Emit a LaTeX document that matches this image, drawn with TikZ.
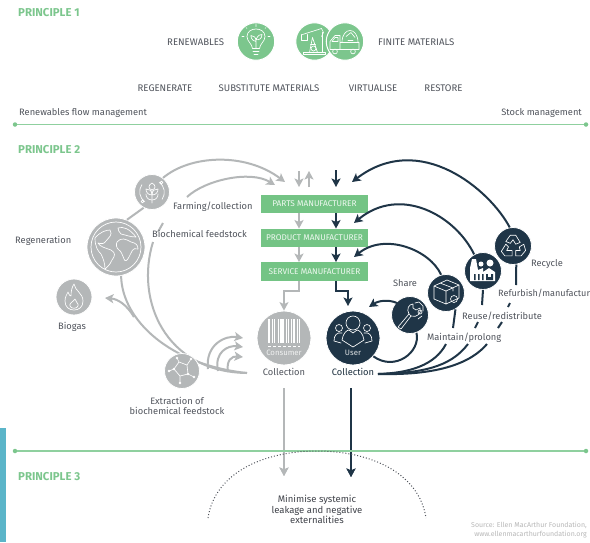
\documentclass[tikz,border=0pt]{standalone}
\usepackage{fontspec}
\setmainfont{Fira Sans}
\usetikzlibrary{arrows.meta}
\definecolor{pgreen}{HTML}{7CC68D}
\definecolor{lgreen}{HTML}{8FD09F}
\definecolor{boxgreen}{HTML}{74C485}
\definecolor{dk}{HTML}{1F3547}
\definecolor{gry}{HTML}{B4B7B8}
\definecolor{txt}{HTML}{50545C}
\definecolor{teal}{HTML}{5BB5C9}
\tikzset{
 x=1pt,y=-1pt,
 head/.style={font=\bfseries\fontsize{11.4}{13}\selectfont,text=pgreen,anchor=west,inner sep=0pt},
 caps/.style={font=\fontsize{9.6}{11}\selectfont,text=txt,inner sep=0pt},
 lbl/.style={font=\fontsize{9.3}{10.5}\selectfont,text=txt,inner sep=0pt,align=center},
 mbox/.style={fill=boxgreen,text=white!88!boxgreen,font=\fontsize{8.3}{9}\selectfont,minimum width=107pt,minimum height=18.5pt,inner sep=0pt},
 gc/.style={circle,fill=gry,draw=white,line width=.8pt,inner sep=0pt},
 dc/.style={circle,fill=dk,draw=white,line width=.8pt,inner sep=0pt},
 fc/.style={circle,fill=pgreen,draw=white,line width=1pt,minimum size=37.5pt,inner sep=0pt},
 gl/.style={draw=gry,line width=2pt},
 dl/.style={draw=dk,line width=2pt},
 ga/.style={gl,-{Stealth[length=8.5pt,width=9pt,inset=2pt]}},
 da/.style={dl,-{Stealth[length=8.5pt,width=9pt,inset=2pt]}},
 ic/.style={draw=white,line width=.65pt,line join=round,line cap=round},
 rule/.style={draw=lgreen,line width=1.6pt},
 dot/.style={circle,fill=pgreen,minimum size=4.5pt,inner sep=0pt},
}
\begin{document}
\begin{tikzpicture}
\useasboundingbox (0,0) rectangle (590,542);
\fill[white] (0,0) rectangle (590,542);
\fill[teal] (0,428) rectangle (6,542);

% Principle 1
\node[head] (p1) at (18,13) {PRINCIPLE 1};
\node[caps,anchor=west] (ren) at (167,42) {RENEWABLES};
\node[caps,anchor=west] (fin) at (378,42) {FINITE MATERIALS};
\node[fc] (bulb) at (256,41.5) {};
\node[fc] (oil) at (314.5,41.5) {};
\node[fc] (truck) at (345,41.5) {};
\begin{scope}[shift={(bulb.center)}]
 \draw[ic] (-3.5,7) .. controls (-4,2) and (-9,0) .. (-9,-5) .. controls (-9,-15) and (9,-15) .. (9,-5) .. controls (9,0) and (4,2) .. (3.5,7) -- cycle;
 \draw[ic] (-3,10) -- (3,10) (-2,13) -- (2,13);
 \draw[ic] (0,7) -- (0,-3) (0,0) .. controls (-5,-1) and (-5,-5) .. (-5,-6) .. controls (-2,-6) and (0,-4) .. (0,0) (0,-2) .. controls (2,-7) and (5,-7) .. (6,-7) .. controls (6,-3) and (3,-1) .. (0,-2);
 \draw[ic] (-14,-5) -- (-12,-5) (12,-5) -- (14,-5) (0,-17) -- (0,-15) (-10,-14) -- (-9,-13) (10,-14) -- (9,-13);
\end{scope}
\begin{scope}[shift={(oil.center)}]
 \draw[ic] (-11,11) -- (11,11) -- (11,13) -- (-11,13) -- cycle;
 \draw[ic] (-5,11) -- (-2,-4) -- (3,11) (-4,3) -- (1,3) (-12,-7) -- (7,-13) (7,-13) -- (9,-9) -- (7,-5) (8,-9) -- (8,11);
 \draw[ic] (-13,-7) -- (-13,-1) -- (-7,-1) -- (-7,-7);
 \draw[ic] (-1,7) circle (2.5);
\end{scope}
\begin{scope}[shift={(truck.center)}]
 \draw[ic] (-15,8) -- (-15,0) -- (-10,-6) -- (-5,-6) -- (-5,8) -- cycle (-5,8) -- (14,8) -- (14,1) -- (-5,1);
 \draw[ic] (-13,0) -- (-10,-4) -- (-7,-4) -- (-7,0) -- cycle;
 \draw[ic] (-10,10) circle (2.4) (8,10) circle (2.4);
 \draw[ic] (-3,1) .. controls (-3,-15) and (13,-15) .. (13,1);
 \draw[ic] (1,-5) -- (6,-9) -- (10,-4) (3,-1) -- (8,-1);
\end{scope}
\node[caps] (reg) at (165,88) {REGENERATE};
\node[caps] (sub) at (269,88) {SUBSTITUTE MATERIALS};
\node[caps] (vir) at (373,88) {VIRTUALISE};
\node[caps] (res) at (443.5,88) {RESTORE};
\node[lbl,anchor=west] (rfm) at (19,113) {Renewables flow management};
\node[lbl,anchor=east] (stk) at (582,113) {Stock management};
\node[dot] (d1) at (15,124.5) {};
\node[dot] (d2) at (586,124.5) {};
\draw[rule] (d1) -- (d2);

% Principle 2
\node[head] (p2) at (18,150) {PRINCIPLE 2};

% manufacturers
\node[mbox] (parts) at (314.5,204) {PARTS MANUFACTURER};
\node[mbox] (prod) at (314.5,238) {PRODUCT MANUFACTURER};
\node[mbox] (serv) at (314.5,271.5) {SERVICE MANUFACTURER};

% circles
\node[gc,minimum size=35pt] (farm) at (152,192) {};
\node[gc,minimum size=58pt] (globe) at (116,247) {};
\node[gc,minimum size=36pt] (biogas) at (74,297) {};
\node[gc,minimum size=54pt] (cons) at (284,338) {};
\node[dc,minimum size=54pt] (user) at (353,338) {};
\node[dc,minimum size=37pt] (recy) at (513,246) {};
\node[dc,minimum size=37pt] (fact) at (483,271) {};
\node[dc,minimum size=37pt] (boxc) at (446,293) {};
\node[dc,minimum size=37pt] (wren) at (410,315) {};

% coordinates
\coordinate (ga1) at (285,182);
\coordinate (ga2) at (275,185);
\coordinate (gi0) at (187,197);
\coordinate (gd1) at (163,223);
\coordinate (gd2) at (158,232);
\coordinate (gi1) at (153,242);
\coordinate (conv) at (247,373);
\coordinate (gb1) at (134,317);
\coordinate (gb2) at (105,298);
\coordinate (f1s) at (208,369); \coordinate (f1e) at (243,338);
\coordinate (f2s) at (218,371); \coordinate (f2e) at (243,347);
\coordinate (f3s) at (228,372); \coordinate (f3e) at (243,357);
\coordinate (u1) at (299,171); \coordinate (u1e) at (299,187);
\coordinate (u2) at (309,187); \coordinate (u2e) at (309,171);
\coordinate (u3) at (336,170); \coordinate (u3e) at (336,187);
\coordinate (a1) at (352,182);
\coordinate (a2) at (354,223);
\coordinate (a3) at (354,257);
\coordinate (k) at (378,374);
\coordinate (lg1) at (284,388); \coordinate (lg2) at (284,476);
\coordinate (ld1) at (351,388); \coordinate (ld2) at (351,477);
\coordinate (sh) at (397,303); \coordinate (she) at (369,307);

% grey flows
\draw[ga] (farm.52) .. controls (190,155) and (245,152) .. (ga1);
\draw[ga] (gi0) .. controls (205,180) and (250,170) .. (ga2);
\draw[gl] (gd1) -- (gd2);
\draw[gl] (gi1) .. controls (135,300) and (165,372) .. (conv);
\draw[gl] (globe.-80) .. controls (122,320) and (170,365) .. (conv);
\draw[gl] (globe.68) -- (farm.-118);
\draw[ga] (gb1) .. controls (127,305) and (118,299) .. (gb2);
\draw[ga] (f1s) .. controls (205,345) and (225,335) .. (f1e);
\draw[ga] (f2s) .. controls (214,352) and (228,345) .. (f2e);
\draw[ga] (f3s) .. controls (226,360) and (232,356) .. (f3e);
\draw[ga] (u1) -- (u1e);
\draw[ga] (u2) -- (u2e);
\draw[ga] (parts.south -| u1) -- (prod.north -| u1);
\draw[ga] (prod.south -| u1) -- (serv.north -| u1);
\draw[ga] (serv.south -| u1) -- ++(0,10) -| (cons.north);
\draw[ga] (lg1) -- (lg2);
\node[gc,minimum size=35pt] (extr) at (182,371) {};

% dark flows
\draw[da] (u3) -- (u3e);
\draw[da] (parts.south -| u3) -- (prod.north -| u3);
\draw[da] (prod.south -| u3) -- (serv.north -| u3);
\draw[da] (serv.south -| u3) -- ++(0,10) -| (348,306);
\draw[da] (recy.100) .. controls (490,190) and (420,130) .. (a1);
\draw[da] (fact.118) .. controls (455,215) and (400,185) .. (a2);
\draw[da] (boxc.105) .. controls (430,250) and (385,232) .. (a3);
\coordinate (r1) at (516,285); \coordinate (r2) at (510,303); \coordinate (r3) at (508,307);
\coordinate (r4) at (502,322); \coordinate (r5) at (498,328); \coordinate (r6) at (487,344);
\coordinate (s1) at (482,305); \coordinate (s2) at (478,322); \coordinate (s3) at (475,328); \coordinate (s4) at (468,344);
\coordinate (t1) at (453,328); \coordinate (t2) at (446,344);
\draw[dl] (recy.-80) -- (r1) (r2) -- (r3) (r4) -- (r5);
\draw[dl] (r6) .. controls (465,370) and (420,375) .. (k);
\draw[dl] (fact.-90) -- (s1) (s2) -- (s3);
\draw[dl] (s4) .. controls (450,368) and (420,373) .. (k);
\draw[dl] (boxc.-60) -- (t1);
\draw[dl] (t2) .. controls (435,365) and (410,373) .. (k);
\draw[dl] (wren.-70) .. controls (421,352) and (395,372) .. (user.-42);
\draw[da] (sh) .. controls (388,299) and (378,301) .. (she);
\draw[da] (ld1) -- (ld2);

% icons
\begin{scope}[shift={(farm.center)}]
 \draw[ic] (0,11) -- (0,-2) (0,-9) .. controls (-4,-7) and (-4,-3) .. (0,-2) .. controls (4,-3) and (4,-7) .. (0,-9);
 \draw[ic] (0,3) .. controls (-5,3) and (-6,-1) .. (-6,-3) .. controls (-3,-3) and (0,-2) .. (0,3) .. controls (0,-2) and (3,-3) .. (6,-3) .. controls (6,-1) and (5,3) .. (0,3);
 \draw[ic] (0,8) .. controls (-5,8) and (-6,4) .. (-6,2) (0,8) .. controls (5,8) and (6,4) .. (6,2);
 \draw[ic] (-7,10) arc (125:215:12.5) (7,-10) arc (-55:35:12.5);
 \draw[ic] (-9.5,9.5) circle (1.4) (9.5,-9.5) circle (1.4);
\end{scope}
\begin{scope}[shift={(globe.center)}]
 \draw[draw=white,line width=.7pt] (0,0) circle (25);
 \draw[ic] (-21,-9) .. controls (-16,-15) and (-10,-17) .. (-6,-17) .. controls (-3,-12) and (-7,-10) .. (-10,-6) .. controls (-12,-3) and (-14,-3) .. (-18,-4) .. controls (-16,0) and (-10,1) .. (-5,3) .. controls (0,6) and (-1,9) .. (-4,13) .. controls (-6,18) and (-9,20) .. (-11,22) .. controls (-11,16) and (-13,11) .. (-15,7) .. controls (-18,4) and (-21,0) .. (-21,-9);
 \draw[ic] (2,-19) .. controls (7,-21) and (14,-18) .. (20,-10) .. controls (14,-10) and (10,-12) .. (5,-13) .. controls (3,-15) and (2,-17) .. (2,-19);
 \draw[ic] (1,-5) .. controls (5,-10) and (10,-8) .. (15,-5) .. controls (20,-4) and (22,-2) .. (22,2) .. controls (16,0) and (16,5) .. (13,10) .. controls (11,14) and (9,15) .. (8,12) .. controls (6,7) and (5,4) .. (3,3) .. controls (0,1) and (0,-3) .. (1,-5);
\end{scope}
\begin{scope}[shift={(biogas.center)}]
 \draw[ic] (0,-13) .. controls (1,-6) and (9,-4) .. (9,4) .. controls (9,10) and (5,13) .. (0,13) .. controls (-5,13) and (-9,10) .. (-9,4) .. controls (-9,0) and (-7,-3) .. (-6,-5) .. controls (-5,-2) and (-4,-1) .. (-3,-1) .. controls (-3,-6) and (-2,-10) .. (0,-13);
 \draw[ic] (1,2) .. controls (1,5) and (5,6) .. (4,9) .. controls (3,12) and (-3,12) .. (-4,9) .. controls (-5,6) and (-1,5) .. (1,2);
\end{scope}
\begin{scope}[shift={(extr.center)}]
 \draw[ic] (-8,-2) -- (-3,-9) -- (5,-6) -- (6,3) -- (-2,5) -- cycle (-2,5) -- (-2,12) (6,3) -- (12,6) (5,-6) -- (9,-12) (-8,-2) -- (-13,0) (-3,-9) -- (-5,-13);
 \foreach \p in {(-2,12),(12,6),(9,-12),(-13,0),(-5,-13),(-8,-2),(6,3)} \fill[white] \p circle (1.3);
\end{scope}
\begin{scope}[shift={(cons.center)}]
 \foreach \a/\w in {-15/1.2,-12/.6,-9.5/1.8,-6/.6,-4/.6,-1.5/2.2,2/.6,4.5/1.5,7/.6,9.5/2,13/.7,15/.6}
  \draw[white,line width=\w pt] (\a,-19) -- (\a,5);
 \draw[white,line width=.6pt,densely dashed] (-16,8) -- (16,8);
 \node[font=\fontsize{7.8}{9}\selectfont,text=white!82!gry,inner sep=0pt] (constxt) at (0,15) {Consumer};
\end{scope}
\begin{scope}[shift={(user.center)}]
 \draw[ic] (-7,-15) arc (180:-180:7) ;
 \draw[ic] (-11,2) .. controls (-10,-5) and (-6,-8) .. (-4,-8) -- (0,-5) -- (4,-8) .. controls (6,-8) and (10,-5) .. (11,2) -- (0,9) -- cycle;
 \draw[ic] (-14,-10) circle (3.5) (14,-10) circle (3.5);
 \draw[ic] (-11,-5) .. controls (-16,-6) and (-19,-3) .. (-19,3) -- (-12,5) (11,-5) .. controls (16,-6) and (19,-3) .. (19,3) -- (12,5);
 \node[font=\fontsize{7.8}{9}\selectfont,text=white!85!dk,inner sep=0pt] (usertxt) at (0,15) {User};
\end{scope}
\begin{scope}[shift={(recy.center)},scale=.9]
 \draw[ic] (-3,-12) -- (3,-12) -- (8,-4) -- (3,-2) -- (0,-7) -- (-3,-3) -- (-8,-5) -- cycle;
 \draw[ic] (-8,-2) -- (-13,6) -- (-9,11) -- (-1,11) -- (-1,5) -- (-7,5) -- (-5,1) -- cycle;
 \draw[ic] (12,-2) -- (14,5) -- (9,11) -- (3,11) -- (3,5) -- (8,5) -- (7,1) -- cycle;
\end{scope}
\begin{scope}[shift={(fact.center)}]
 \fill[white] (-13,10) -- (-13,-3) -- (-11,-12) -- (-7,-12) -- (-5,-1) -- (0,-3) -- (0,1) -- (6,-3) -- (12,1) -- (12,10) -- cycle;
 \fill[white] (7,-8) circle (3.5) (-2,-7) circle (2.5);
 \fill[dk] (-9,3) rectangle (-7.5,9) (-5,3) rectangle (-3.5,9) (-1,3) rectangle (.5,9) (3,3) rectangle (10,9);
 \fill[white] (5,3) rectangle (8,5.5);
\end{scope}
\begin{scope}[shift={(boxc.center)}]
 \draw[ic] (-12,-7) -- (1,-13) -- (13,-8) -- (13,5) -- (0,11) -- (-12,6) -- cycle (-12,-7) -- (0,-2) -- (13,-8) (0,-2) -- (0,11) (-6,-10) -- (7,-5) -- (7,-2);
 \draw[ic] (8,6) circle (3.5);
\end{scope}
\begin{scope}[shift={(wren.center)}]
 \draw[ic] (-12,12) -- (-1,-1) -- (1,1) -- (-9,14) -- cycle;
 \draw[ic] (-1,-1) .. controls (-4,-6) and (-1,-11) .. (3,-11) -- (3,-7) -- (6,-5) -- (10,-7) .. controls (12,-2) and (7,3) .. (1,1);
 \draw[ic] (5,-12) -- (9,-13) -- (13,-9) -- (13,-4) (12,1) -- (8,4);
 \draw[ic] (10,-3) circle (2);
\end{scope}

% labels
\node[lbl,anchor=west] (lfarm) at (173,207) {Farming/collection};
\node[lbl,anchor=west] (lbio) at (152,234) {Biochemical feedstock};
\node[lbl,anchor=west] (lregen) at (15,241) {Regeneration};
\node[lbl] (lbiog) at (72,327) {Biogas};
\node[lbl,text depth=0pt] (lextr) at (177,406) {Extraction of\\biochemical feedstock};
\node[lbl] (lcc) at (284,372) {Collection};
\node[lbl,text=dk!85!black] (luc) at (353,372) {Collection};
\node[lbl] (lshare) at (405,283) {Share};
\node[lbl] (lrecy) at (547,264) {Recycle};
\node[lbl,anchor=west,font=\fontsize{9.1}{10.5}\selectfont] (lref) at (498,293.5) {Refurbish/manufactur};
\node[lbl,anchor=west] (lreu) at (462,316) {Reuse/redistribute};
\node[lbl,anchor=west] (lmai) at (427,338) {Maintain/prolong};

% Principle 3
\node[dot] (d3) at (15,451) {};
\node[dot] (d4) at (586,451) {};
\draw[rule] (d3) -- (d4);
\node[head] (p3) at (18,477) {PRINCIPLE 3};
\coordinate (al) at (208,518);
\coordinate (ar) at (426,518);
\draw[line width=1pt,draw=txt,dotted] (al) .. controls (215,472) and (265,451) .. (317,451) .. controls (369,451) and (419,472) .. (ar);
\draw[ga] (lg2) ++(0,-14) -- (lg2);
\draw[da] (ld2) ++(0,-14) -- (ld2);
\node[font=\fontsize{9.5}{10.7}\selectfont,text=txt!80!black,align=center,inner sep=0pt] (mini) at (317,509.5) {Minimise systemic\\leakage and negative\\externalities};
\node[font=\fontsize{7}{8.4}\selectfont,text=black!28,align=right,anchor=east,inner sep=0pt] (src) at (587,530) {Source: Ellen MacArthur Foundation,\\www.ellenmacarthurfoundation.org};
\end{tikzpicture}
\end{document}
